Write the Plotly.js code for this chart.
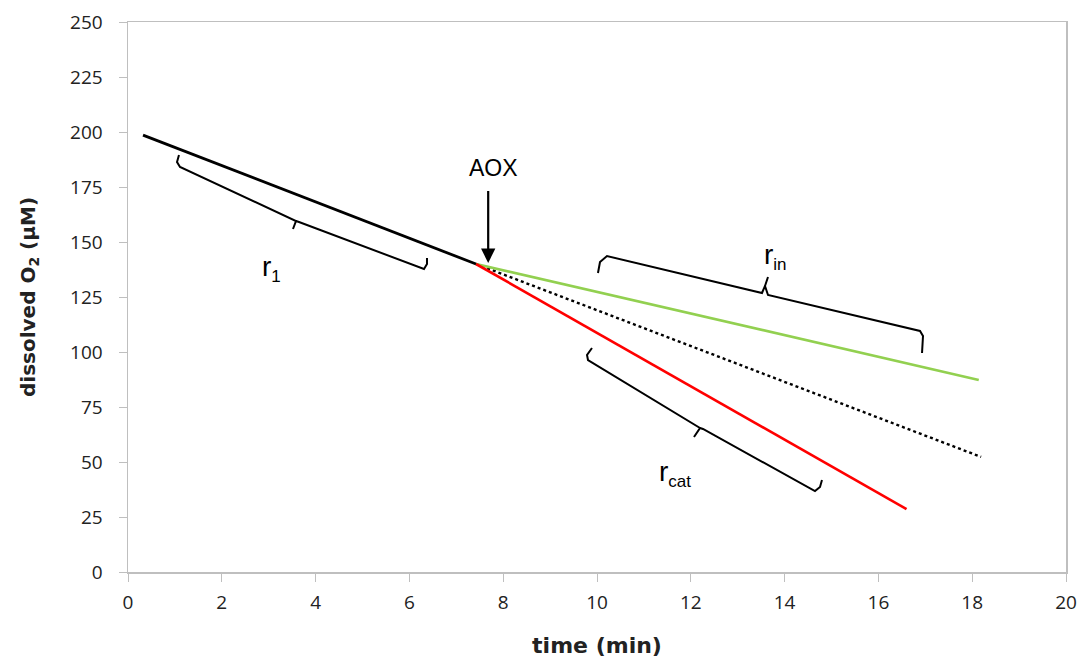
<!DOCTYPE html>
<html><head><meta charset="utf-8">
<script src="https://cdn.plot.ly/plotly-3.0.1.min.js"></script>
<style>html,body{margin:0;padding:0;background:#fff}#chart{width:1082px;height:658px}</style>
</head><body><div id="chart"></div>
<script>
// data (time in min, dissolved O2 in µM)
var baseTime = [0.32, 7.42];
var baseO2 = [198.6, 140.0];
var inhibTime = [7.42, 18.14];
var inhibO2 = [140.0, 87.3];
var extrapTime = [7.42, 18.19];
var extrapO2 = [140.0, 52.3];
var catTime = [7.42, 16.6];
var catO2 = [140.0, 28.6];
var xTicks = [0, 2, 4, 6, 8, 10, 12, 14, 16, 18, 20];
var yTicks = [0, 25, 50, 75, 100, 125, 150, 175, 200, 225, 250];

var traces = [
  {x: extrapTime, y: extrapO2, mode: 'lines', line: {color: '#000', width: 2.4, dash: 'dot'}},
  {x: inhibTime, y: inhibO2, mode: 'lines', line: {color: '#92D050', width: 2.6}},
  {x: catTime, y: catO2, mode: 'lines', line: {color: '#FF0000', width: 2.6}},
  {x: baseTime, y: baseO2, mode: 'lines', line: {color: '#000', width: 2.8}}
];

// bracket helper (data coords)
function P(px, py) { return [((px - 128) / 46.9).toFixed(3), ((572 - py) / 2.2).toFixed(2)]; }
function pt(a) { var p = P(a[0], a[1]); return p[0] + ',' + p[1]; }
function bracket(pts) {
  return 'M' + pts.map(pt).join(' L');
}
var brStyle = {color: '#000', width: 2};
var shapes = [
  {type: 'path', xref: 'x', yref: 'y', line: brStyle,
   path: bracket([[179,155],[177,162],[180,167],[296,221],[293,229]]) + ' M' + pt([296,221]) + ' L' + pt([299,222]) + ' L' + pt([424,269]) + ' L' + pt([427,264]) + ' L' + pt([427,258])},
  {type: 'path', xref: 'x', yref: 'y', line: brStyle,
   path: bracket([[598,273],[600,262],[607,256],[762,293],[765,286],[768,277]]) + ' M' + pt([765,286]) + ' L' + pt([768,295]) + ' L' + pt([920,331]) + ' L' + pt([923,336]) + ' L' + pt([922,353])},
  {type: 'path', xref: 'x', yref: 'y', line: brStyle,
   path: bracket([[592,348],[587,355],[588,360],[700,428],[694,437]]) + ' M' + pt([700,428]) + ' L' + pt([703,429]) + ' L' + pt([815,491]) + ' L' + pt([820,487]) + ' L' + pt([822,480])}
];

var lblFont = {family: 'Liberation Sans, Arial, sans-serif', size: 23, color: '#000'};
var rFont = {family: 'Liberation Sans, Arial, sans-serif', size: 28, color: '#000'};
function rLabel(sub) { return 'r<sub><span style="font-size:17px">' + sub + '</span></sub>'; }
var annotations = [
  {x: 7.68, y: 140.5, xref: 'x', yref: 'y', text: ' ', showarrow: true, ax: 0, ay: -82,
   arrowhead: 2, arrowsize: 1.3, arrowwidth: 2.2, arrowcolor: '#000'},
  {x: 7.8, y: 183.5, xref: 'x', yref: 'y', text: 'AOX', showarrow: false, font: lblFont},
  {x: (271 - 128) / 46.9, y: (572 - 268) / 2.2, xref: 'x', yref: 'y', text: rLabel('1'), showarrow: false, font: rFont},
  {x: (775 - 128) / 46.9, y: (572 - 256) / 2.2, xref: 'x', yref: 'y', text: rLabel('in'), showarrow: false, font: rFont},
  {x: (675 - 128) / 46.9, y: (572 - 473) / 2.2, xref: 'x', yref: 'y', text: rLabel('cat'), showarrow: false, font: rFont}
];

var tickFont = {family: 'Open Sans, Liberation Sans, sans-serif', size: 19, color: '#222'};
var layout = {
  width: 1082, height: 658,
  margin: {l: 128, r: 16, t: 22, b: 86},
  paper_bgcolor: '#fff', plot_bgcolor: '#fff',
  showlegend: false,
  xaxis: {range: [0, 20], tickvals: xTicks, ticktext: xTicks.map(String), showgrid: false, zeroline: false,
    showline: true, linecolor: '#bfbfbf', linewidth: 1.5, mirror: true, ticks: 'outside', ticklen: 8, tickcolor: '#bfbfbf',
    tickfont: tickFont, ticklabelstandoff: 5,
    title: {text: 'time (min)', font: {family: 'DejaVu Sans, sans-serif', size: 22, color: '#222', weight: 'bold'}, standoff: 23}},
  yaxis: {range: [0, 250], tickvals: yTicks, ticktext: yTicks.map(String), showgrid: false, zeroline: false,
    showline: true, linecolor: '#bfbfbf', linewidth: 1.5, mirror: true, ticks: 'outside', ticklen: 8, tickcolor: '#bfbfbf',
    tickfont: tickFont, ticklabelstandoff: 12,
    title: {text: 'dissolved O<sub>2</sub> (µM)', font: {family: 'DejaVu Sans, sans-serif', size: 20, color: '#222', weight: 'bold'}, standoff: 29}},
  shapes: shapes,
  annotations: annotations
};
Plotly.newPlot('chart', traces, layout, {displayModeBar: false, staticPlot: true});
</script></body></html>
